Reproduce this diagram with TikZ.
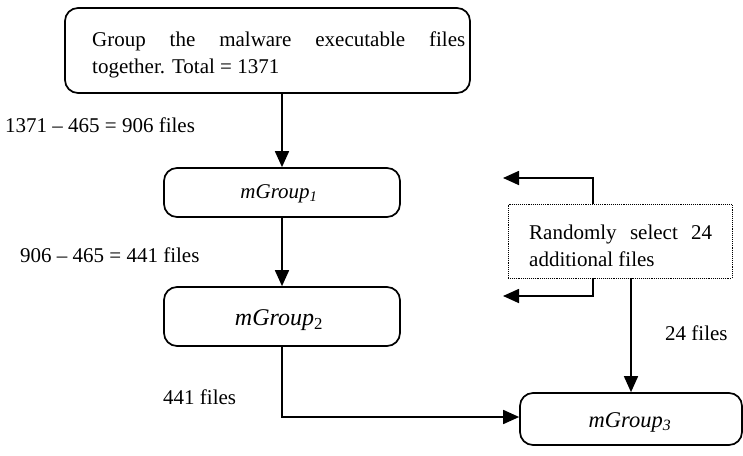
\documentclass[tikz,border=0pt]{standalone}
\usepackage{fontspec}
\setmainfont{Liberation Serif}
\usetikzlibrary{arrows.meta}
\begin{document}
\begin{tikzpicture}[x=1pt,y=-1pt,
  every node/.style={font=\fontsize{21}{27}\selectfont, inner sep=0pt},
  rbox/.style={draw, line width=1.7pt, rounded corners=13pt},
  dbox/.style={draw, densely dotted, line width=0.9pt},
  arr/.style={line width=1.7pt, -{Triangle[length=16pt,width=14pt]}},
  lbl/.style={anchor=west}]
\useasboundingbox (0,0) rectangle (743,455);
\node[rbox, minimum width=405pt, minimum height=85pt] (top) at (267.5,50.5) {};
\node[text width=373pt, align=justify, anchor=north west] (toptext) at (92,32)
  {Group the malware executable files\linebreak together. Total = 1371};
\node[rbox, minimum width=236pt, minimum height=49pt] (m1) at (282,192.5) {};
\node (m1t) at (279,194) {\textit{mGroup\textsubscript{1}}};
\node[rbox, minimum width=236pt, minimum height=59pt] (m2) at (282,316.5) {};
\node[font=\fontsize{24}{28}\selectfont] (m2t) at (279,320) {\textit{mGroup}\textsubscript{2}};
\node[rbox, minimum width=222pt, minimum height=52pt] (m3) at (631,419) {};
\node[font=\fontsize{22.5}{27}\selectfont] (m3t) at (630,422) {\textit{mGroup\textsubscript{3}}};
\node[dbox, minimum width=224pt, minimum height=74pt] (d) at (620,241) {};
\node[text width=183pt, align=justify, anchor=north west] (dtext) at (529,225)
  {Randomly select 24\linebreak additional files};
\coordinate (t1) at (503,178);
\coordinate (b1) at (503,296);
\draw[arr] (top.south -| m1.north) -- (m1.north);
\draw[arr] (m1.south) -- (m2.north);
\draw[arr] (m2.south) |- ([yshift=2pt]m3.west);
\draw[arr] ([xshift=-27pt]d.north) |- (t1);
\draw[arr] ([xshift=-27pt]d.south) |- (b1);
\draw[arr] (m3.north |- d.south) -- (m3.north);
\node[lbl] (l1) at (5,125) {1371 – 465 = 906 files};
\node[lbl] (l2) at (20,255) {906 – 465 = 441 files};
\node[lbl] (l3) at (163,397) {441 files};
\node[lbl] (l4) at (665,333) {24 files};
\end{tikzpicture}
\end{document}
